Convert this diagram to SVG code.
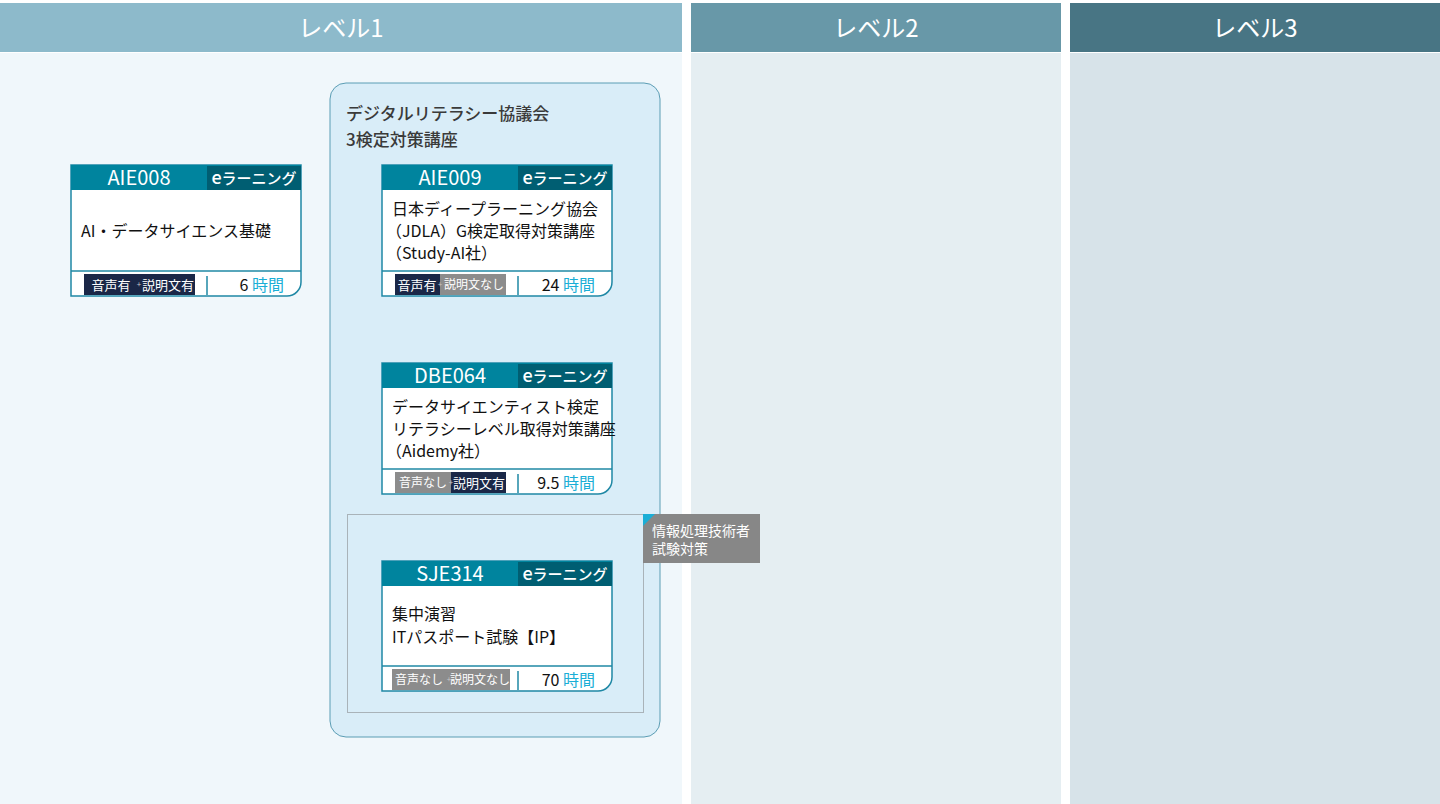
<svg xmlns="http://www.w3.org/2000/svg" width="1440" height="804" viewBox="0 0 1440 804">
<style>
text{font-family:"Noto Sans CJK JP","Noto Sans",sans-serif}
.lvl{fill:#fff;font-size:24px;text-anchor:middle}
.code{fill:#fff;font-size:20px;text-anchor:middle}
.el{fill:#fff;font-size:15px;text-anchor:middle;font-weight:500}
.body{fill:#111;font-size:16px}
.bd{fill:#fff;font-size:13px;text-anchor:middle}
.bs{fill:#fff;font-size:12px;text-anchor:middle}
.pl{fill:#c8c8c8;font-size:8px;text-anchor:middle}
.hr{font-size:16px;text-anchor:end;fill:#111}
.hr tspan.u{fill:#1aaed6}
.card{fill:#fff;stroke:#1f88a5;stroke-width:1.5}
.hd{fill:#00849e}
.hd2{fill:#005e72}
.on{fill:#1a2747}
.off{fill:#8c8c8c}
.sep{stroke:#1f88a5;stroke-width:1.5}
</style>
<rect x="0" y="0" width="1440" height="804" fill="#ffffff"/>
<g id="level1">
<rect x="0" y="3" width="682" height="49" fill="#8dbacb"/>
<rect x="0" y="53" width="682" height="751" fill="#f0f7fb"/>
<text class="lvl" x="341" y="37">レベル1</text>
</g>
<g id="level2">
<rect x="691" y="3" width="370" height="49" fill="#6898a8"/>
<rect x="691" y="53" width="370" height="751" fill="#e5eef2"/>
<text class="lvl" x="876" y="37">レベル2</text>
</g>
<g id="level3">
<rect x="1070" y="3" width="370" height="49" fill="#487584"/>
<rect x="1070" y="53" width="370" height="751" fill="#d7e3e9"/>
<text class="lvl" x="1255" y="37">レベル3</text>
</g>
<g id="group-dl">
<rect x="330" y="83" width="330" height="654" rx="16" fill="#d9edf8" stroke="#5b9db4" stroke-width="1"/>
<text x="346" y="120" font-size="17" fill="#3a3a3a" font-weight="500">デジタルリテラシー協議会</text>
<text x="346" y="146" font-size="17" fill="#3a3a3a" font-weight="500">3検定対策講座</text>
</g>
<g id="group-ip">
<rect x="347.5" y="514.5" width="296" height="198" fill="none" stroke="#a9b3b9" stroke-width="1"/>
<rect x="643" y="514" width="117" height="49" fill="#878787"/>
<polygon points="643,514 655,514 643,526" fill="#1aaed6"/>
<text x="652" y="536" font-size="14" fill="#fff">情報処理技術者</text>
<text x="652" y="554" font-size="14" fill="#fff">試験対策</text>
</g>
<g id="AIE008" transform="translate(71,165)">
<path class="card" d="M0,0H230V117A14,14 0 0 1 216,131H0Z"/>
<rect class="hd" x="0" y="0" width="230" height="25"/>
<rect class="hd2" x="136" y="1" width="94" height="24"/>
<text class="code" x="68" y="20">AIE008</text>
<text class="el" x="183" y="19"><tspan font-size="18">e</tspan>ラーニング</text>
<text class="body" x="10" y="72">AI・データサイエンス基礎</text>
<line class="sep" x1="0" y1="106" x2="230" y2="106"/>
<rect class="on" x="13" y="109" width="55" height="21"/>
<rect class="on" x="68" y="109" width="56" height="21"/>
<text class="bd" x="40" y="125">音声有</text>
<text class="pl" x="68" y="122">+</text>
<text class="bd" x="97" y="125">説明文有</text>
<line class="sep" x1="136" y1="111" x2="136" y2="130"/>
<text class="hr" x="213" y="126">6 <tspan class="u">時間</tspan></text>
</g>
<g id="AIE009" transform="translate(382,165)">
<path class="card" d="M0,0H230V117A14,14 0 0 1 216,131H0Z"/>
<rect class="hd" x="0" y="0" width="230" height="25"/>
<rect class="hd2" x="136" y="1" width="94" height="24"/>
<text class="code" x="68" y="20">AIE009</text>
<text class="el" x="183" y="19"><tspan font-size="18">e</tspan>ラーニング</text>
<text class="body" x="10" y="50">日本ディープラーニング協会</text>
<text class="body" x="4" y="72">（JDLA）G検定取得対策講座</text>
<text class="body" x="4" y="94">（Study-AI社）</text>
<line class="sep" x1="0" y1="106" x2="230" y2="106"/>
<rect class="on" x="13" y="109" width="45" height="21"/>
<rect class="off" x="58" y="109" width="66" height="21"/>
<text class="bd" x="35" y="125">音声有</text>
<text class="pl" x="58" y="122">+</text>
<text class="bs" x="92" y="124">説明文なし</text>
<line class="sep" x1="136" y1="111" x2="136" y2="130"/>
<text class="hr" x="213" y="126">24 <tspan class="u">時間</tspan></text>
</g>
<g id="DBE064" transform="translate(382,363)">
<path class="card" d="M0,0H230V117A14,14 0 0 1 216,131H0Z"/>
<rect class="hd" x="0" y="0" width="230" height="25"/>
<rect class="hd2" x="136" y="1" width="94" height="24"/>
<text class="code" x="68" y="20">DBE064</text>
<text class="el" x="183" y="19"><tspan font-size="18">e</tspan>ラーニング</text>
<text class="body" x="10" y="50">データサイエンティスト検定</text>
<text class="body" x="10" y="72">リテラシーレベル取得対策講座</text>
<text class="body" x="4" y="94">（Aidemy社）</text>
<line class="sep" x1="0" y1="106" x2="230" y2="106"/>
<rect class="off" x="13" y="109" width="56" height="21"/>
<rect class="on" x="69" y="109" width="55" height="21"/>
<text class="bs" x="41" y="124">音声なし</text>
<text class="pl" x="69" y="122">+</text>
<text class="bd" x="97" y="125">説明文有</text>
<line class="sep" x1="136" y1="111" x2="136" y2="130"/>
<text class="hr" x="213" y="126">9.5 <tspan class="u">時間</tspan></text>
</g>
<g id="SJE314" transform="translate(382,561)">
<path class="card" d="M0,0H230V116A14,14 0 0 1 216,130H0Z"/>
<rect class="hd" x="0" y="0" width="230" height="25"/>
<rect class="hd2" x="136" y="1" width="94" height="24"/>
<text class="code" x="68" y="20">SJE314</text>
<text class="el" x="183" y="19"><tspan font-size="18">e</tspan>ラーニング</text>
<text class="body" x="10" y="59">集中演習</text>
<text class="body" x="10" y="82">ITパスポート試験【IP】</text>
<line class="sep" x1="0" y1="105" x2="230" y2="105"/>
<rect class="off" x="10" y="108" width="57" height="21"/>
<rect class="off" x="67" y="108" width="61" height="21"/>
<text class="bs" x="37" y="123">音声なし</text>
<text class="pl" x="67" y="121">+</text>
<text class="bs" x="98" y="123">説明文なし</text>
<line class="sep" x1="136" y1="110" x2="136" y2="129"/>
<text class="hr" x="213" y="125">70 <tspan class="u">時間</tspan></text>
</g>
</svg>
